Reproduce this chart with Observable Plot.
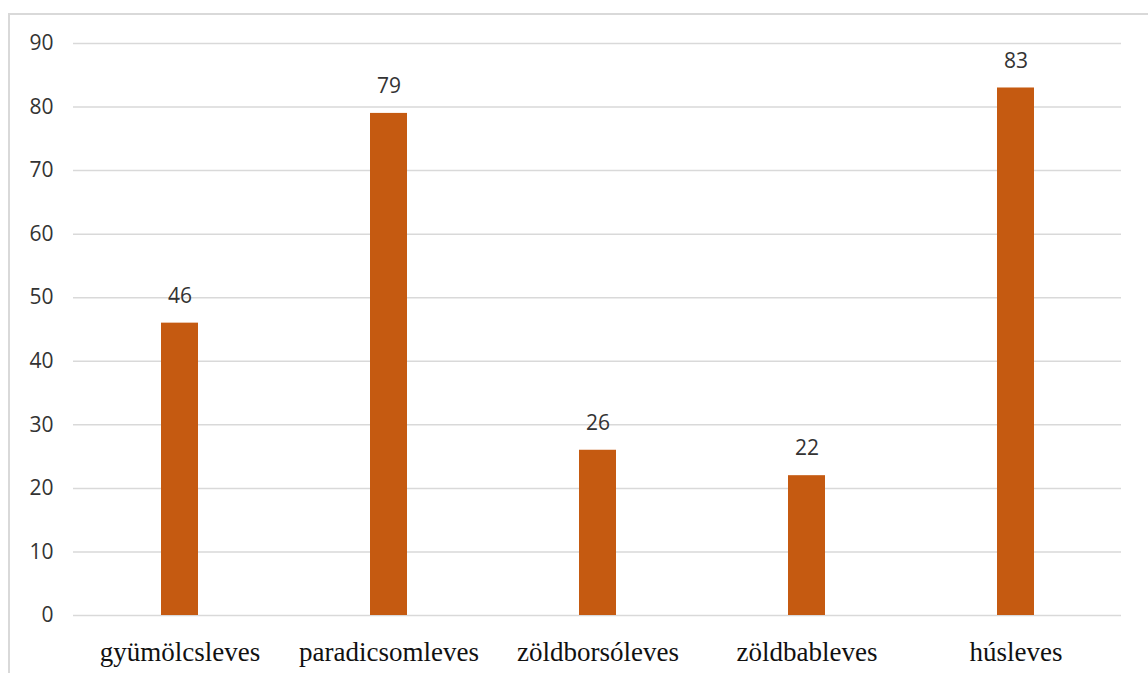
<!DOCTYPE html>
<html>
<head>
<meta charset="utf-8">
<script src="https://cdn.jsdelivr.net/npm/d3@7"></script>
<script src="https://cdn.jsdelivr.net/npm/@observablehq/plot@0.6"></script>
<style>
  html, body { margin: 0; padding: 0; background: #fff; }
  #wrap { position: relative; width: 1148px; height: 673px; overflow: hidden; }
  #frame { position: absolute; left: 8px; top: 13px; width: 1160px; height: 700px; border: 2px solid #d9d9d9; box-sizing: border-box; }
  #chart { position: absolute; left: 0; top: 0; }
</style>
</head>
<body>
<div id="wrap"><div id="frame"></div><div id="chart"></div></div>
<script>
const categories = ["gyümölcsleves", "paradicsomleves", "zöldborsóleves", "zöldbableves", "húsleves"];
const values = [46, 79, 26, 22, 83];
const yTicks = [0, 10, 20, 30, 40, 50, 60, 70, 80, 90];

const data = categories.map((c, i) => ({category: c, value: values[i]}));

const chart = Plot.plot({
  width: 1148,
  height: 673,
  marginLeft: 73,
  marginRight: 27,
  marginTop: 43,
  marginBottom: 58,
  style: {background: "transparent", overflow: "visible"},
  x: {domain: categories, paddingInner: 0.823, paddingOuter: 0.4115, label: null},
  y: {domain: [0, 90], ticks: yTicks, label: null},
  marks: [
    Plot.gridY(yTicks, {stroke: "#d9d9d9", strokeOpacity: 1, strokeWidth: 1.5}),
    Plot.barY(data, {x: "category", y: "value", fill: "#C55A11"}),
    Plot.text(data, {x: "category", y: "value", text: d => String(d.value), dy: -27,
      fontSize: 21, fill: "#333", fontFamily: "'Open Sans', 'DejaVu Sans', sans-serif"}),
    Plot.axisY(yTicks, {tickSize: 0, tickPadding: 0, dx: -20, fontSize: 21, fill: "#333",
      fontFamily: "'Open Sans', 'DejaVu Sans', sans-serif", label: null}),
    Plot.axisX({tickSize: 0, tickPadding: 0, dy: 26, fontSize: 27, fill: "#111",
      fontFamily: "'Liberation Serif', 'Times New Roman', serif", label: null})
  ]
});
document.getElementById("chart").appendChild(chart);
</script>
</body>
</html>
